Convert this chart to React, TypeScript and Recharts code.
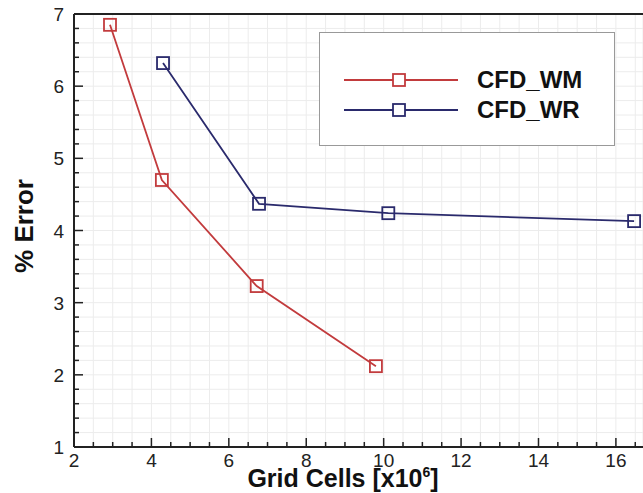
import { LineChart, Line, XAxis, YAxis, CartesianGrid, ReferenceLine, Label } from 'recharts'

const wmCells = [2.93, 4.27, 6.72, 9.8]
const wmError = [6.85, 4.7, 3.23, 2.12]

const wrCells = [4.3, 6.78, 10.12, 16.47]
const wrError = [6.32, 4.37, 4.24, 4.13]

const xTicks = [2, 2.5, 3, 3.5, 4, 4.5, 5, 5.5, 6, 6.5, 7, 7.5, 8, 8.5, 9, 9.5, 10, 10.5, 11, 11.5, 12, 12.5, 13, 13.5, 14, 14.5, 15, 15.5, 16, 16.5]
const yTicks = [1, 1.2, 1.4, 1.6, 1.8, 2, 2.2, 2.4, 2.6, 2.8, 3, 3.2, 3.4, 3.6, 3.8, 4, 4.2, 4.4, 4.6, 4.8, 5, 5.2, 5.4, 5.6, 5.8, 6, 6.2, 6.4, 6.6, 6.8, 7]

const wmData = wmCells.map((x, i) => ({ x, y: wmError[i] }))
const wrData = wrCells.map((x, i) => ({ x, y: wrError[i] }))

const RED = '#c23b3d'
const BLUE = '#2a2a6c'
const FONT = '"Liberation Sans", Arial, sans-serif'

const isMajor = (v: number, step: number) => Math.abs(v / step - Math.round(v / step)) < 1e-6

const XTick = ({ x, y, payload }: any) => {
  const major = isMajor(payload.value, 2)
  return (
    <g>
      <line x1={x} x2={x} y1={y} y2={y - (major ? 9 : 5)} stroke="#222" strokeWidth={1.5} />
      {major && (
        <text x={x} y={y + 20} textAnchor="middle" fontSize={19} fill="#222" fontFamily={FONT}>
          {payload.value}
        </text>
      )}
    </g>
  )
}

const YTick = ({ x, y, payload }: any) => {
  const major = isMajor(payload.value, 1)
  return (
    <g>
      <line x1={x} x2={x + (major ? 9 : 5)} y1={y} y2={y} stroke="#222" strokeWidth={1.5} />
      {major && (
        <text x={x - 10} y={y + 7} textAnchor="end" fontSize={19} fill="#222" fontFamily={FONT}>
          {payload.value}
        </text>
      )}
    </g>
  )
}

const SquareDot = (color: string) => (props: any) => {
  const { cx, cy, index } = props
  return <rect key={index} x={cx - 6} y={cy - 6} width={12} height={12} fill="none" stroke={color} strokeWidth={1.8} />
}

const series = [
  { label: 'CFD_WM', color: RED, y: 48 },
  { label: 'CFD_WR', color: BLUE, y: 78 },
]

const LegendBox = () => (
  <div
    style={{
      position: 'absolute',
      left: 319,
      top: 32,
      width: 296,
      height: 114,
      border: '1.5px solid #999',
      background: '#fff',
      boxSizing: 'border-box',
    }}
  >
    <svg width={296} height={114} style={{ position: 'absolute', left: -1.5, top: -1.5 }}>
      {series.map((s) => (
        <g key={s.label}>
          <line x1={25} x2={139} y1={s.y} y2={s.y} stroke={s.color} strokeWidth={1.8} />
          <rect x={74} y={s.y - 6} width={12} height={12} fill="#fff" stroke={s.color} strokeWidth={1.8} />
          <text x={158} y={s.y + 8} fontSize={24} fontWeight="bold" fill="#111" fontFamily={FONT}>
            {s.label}
          </text>
        </g>
      ))}
    </svg>
  </div>
)

export default function App() {
  return (
    <div style={{ position: 'absolute', left: 0, top: 0, width: 643, height: 493, background: '#fff' }}>
      <LineChart width={643} height={493} margin={{ top: 14, right: 0, left: 0, bottom: 0 }}>
        <CartesianGrid stroke="#ececec" strokeWidth={1} />
        <XAxis
          type="number"
          dataKey="x"
          domain={[2, 16.7]}
          ticks={xTicks}
          interval={0}
          allowDataOverflow
          height={46}
          tickSize={0}
          tickMargin={0}
          tick={<XTick />}
          stroke="#222"
          strokeWidth={2}
        >
          <Label
            content={() => (
              <text x={343} y={487} textAnchor="middle" fontSize={25} fontWeight="bold" fill="#111" fontFamily={FONT}>
                Grid Cells [x10<tspan dy={-10} fontSize={14}>6</tspan>
                <tspan dy={10}>]</tspan>
              </text>
            )}
          />
        </XAxis>
        <YAxis
          type="number"
          dataKey="y"
          domain={[1, 7]}
          ticks={yTicks}
          interval={0}
          width={74}
          tickSize={0}
          tickMargin={0}
          tick={<YTick />}
          stroke="#222"
          strokeWidth={2}
        >
          <Label
            content={() => (
              <text
                x={33}
                y={226}
                transform="rotate(-90 33 226)"
                textAnchor="middle"
                fontSize={26}
                fontWeight="bold"
                fill="#111"
                fontFamily={FONT}
              >
                % Error
              </text>
            )}
          />
        </YAxis>
        <ReferenceLine y={7} stroke="#222" strokeWidth={2} />
        <Line
          data={wmData}
          dataKey="y"
          name="CFD_WM"
          type="linear"
          stroke={RED}
          strokeWidth={1.8}
          dot={SquareDot(RED)}
          activeDot={false}
          isAnimationActive={false}
        />
        <Line
          data={wrData}
          dataKey="y"
          name="CFD_WR"
          type="linear"
          stroke={BLUE}
          strokeWidth={1.8}
          dot={SquareDot(BLUE)}
          activeDot={false}
          isAnimationActive={false}
        />
      </LineChart>
      <LegendBox />
    </div>
  )
}
